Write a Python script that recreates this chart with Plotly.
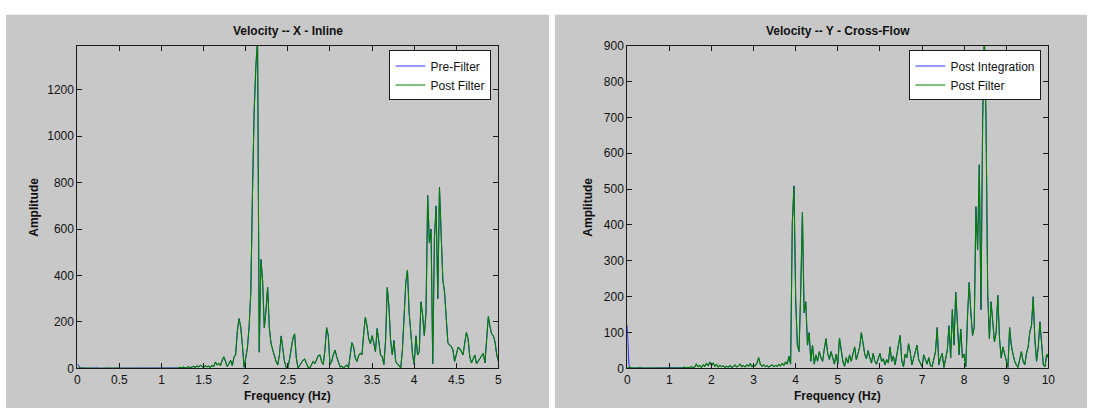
import numpy as np
import plotly.graph_objects as go

# Frequency bins (Hz)
freq_x = np.round(np.arange(251) * 0.02, 2)
freq_y = np.round(np.arange(251) * 0.04, 2)

# Inline (X) velocity spectrum after filtering
post_filter_x = [
    3, 2, 1, 2, 1, 1, 2, 1, 1, 2, 1, 1, 2, 1, 1, 1, 2, 1, 1, 2,
    1, 2, 1, 1, 2, 1, 1, 1, 2, 1, 1, 2, 1, 1, 2, 1, 2, 1, 1, 2,
    1, 2, 1, 1, 2, 2, 1, 2, 1, 2, 1, 2, 1, 2, 1,
    2, 3, 1, 2, 4, 2, 5, 3, 6, 2, 4, 7, 3, 5, 9, 4, 11, 6, 14, 8,
    5, 12, 7, 10, 4, 13, 9, 28, 15, 22, 12, 35, 50, 30, 8,
    20, 35, 12, 48, 60, 160, 215, 180, 100, 5,
    46, 90, 180, 330, 760, 1110, 1300, 1420, 70, 470,
    378, 174, 250, 349, 174, 108, 80, 50, 30, 15,
    60, 140, 90, 30, 5, 2, 40, 90, 130, 149,
    46, 2, 15, 25, 35, 40, 20, 5, 2, 15,
    30, 20, 40, 55, 58, 30, 17, 80, 176, 141,
    17, 30, 60, 79, 50, 24, 6, 10, 3, 8,
    15, 3, 50, 111, 93, 45, 30, 55, 65, 58,
    150, 221, 182, 127, 106, 141, 110, 72, 172, 120,
    58, 51, 17, 120, 349, 266, 120, 58, 120, 30,
    20, 10, 2, 80, 238, 369, 424, 238, 155, 60,
    17, 141, 58, 72, 287, 231, 141, 240, 745, 540,
    600, 20, 560, 700, 300, 780, 580, 380, 330, 230,
    110, 100, 95, 79, 30, 60, 90, 86, 70, 58,
    110, 155, 127, 50, 24, 45, 58, 20, 30, 44,
    55, 65, 24, 120, 224, 180, 148, 141, 113, 58,
    30,
]
# Before filtering only the lowest bins differ
pre_filter_x_head = [20, 8]
pre_filter_x = pre_filter_x_head + post_filter_x[len(pre_filter_x_head):]

# Cross-flow (Y) velocity spectrum after filtering
post_filter_y = [
    3, 2, 1, 2, 1, 1, 2, 1, 2, 1, 1, 2, 1, 1, 2, 1, 2, 1, 1, 2,
    1, 2, 2, 1, 3, 1, 2, 1, 3, 2, 1, 3, 2, 2, 4, 1, 3, 2, 5, 2,
    4, 12, 5, 8, 3, 10, 6, 14, 7, 18, 9, 15, 6, 11, 4, 9, 5, 7, 3, 6,
    4, 8, 3, 5, 10, 4, 7, 12, 5, 8, 4, 10, 6, 14, 5, 9, 7, 15, 30, 12,
    6, 10, 5, 8, 4, 7, 10, 5, 8, 6, 11, 7, 14, 9, 18, 12, 34, 12, 406, 509,
    190, 65, 47, 218, 435, 155, 186, 65, 100, 20,
    65, 12, 38, 20, 47, 30, 20, 55, 83, 42,
    25, 47, 30, 12, 40, 12, 85, 47, 20, 6,
    30, 15, 38, 20, 45, 60, 24, 40, 60, 100,
    65, 40, 27, 50, 30, 15, 42, 20, 12, 30,
    42, 20, 27, 10, 25, 15, 60, 20, 35, 10,
    40, 60, 92, 20, 5, 40, 30, 69, 45, 10,
    30, 50, 65, 25, 15, 5, 38, 25, 12, 30,
    8, 5, 25, 47, 114, 10, 30, 42, 3, 30,
    51, 119, 29, 164, 65, 213, 119, 38, 110, 29,
    40, 5, 145, 240, 155, 92, 114, 451, 330, 568,
    164, 693, 930, 693, 209, 83, 186, 119, 74, 101,
    204, 83, 29, 60, 38, 20, 3, 114, 65, 40,
    20, 10, 3, 25, 47, 20, 10, 42, 60, 101,
    120, 200, 80, 20, 60, 130, 60, 10, 5, 40,
    30,
]
post_integration_y_head = [120, 10]
post_integration_y = post_integration_y_head + post_filter_y[len(post_integration_y_head):]

x_ticks_left = [0, 0.5, 1, 1.5, 2, 2.5, 3, 3.5, 4, 4.5, 5]
x_tick_text_left = ["0", "0.5", "1", "1.5", "2", "2.5", "3", "3.5", "4", "4.5", "5"]
y_ticks_left = [0, 200, 400, 600, 800, 1000, 1200]
x_ticks_right = list(range(0, 11))
y_ticks_right = list(range(0, 1000, 100))

W, H = 1094, 417
BLUE = "#0000ff"
GREEN = "#008000"
GRAY = "#c8c8c8"
INK = "#111111"
FONT = "Liberation Sans, Arial, sans-serif"


def px(x):
    return x / W


def py(y):
    return 1 - y / H


fig = go.Figure()

fig.add_trace(go.Scatter(x=freq_x, y=pre_filter_x, mode="lines", name="Pre-Filter",
                         line=dict(color=BLUE, width=0.8), xaxis="x", yaxis="y", legend="legend"))
fig.add_trace(go.Scatter(x=freq_x, y=post_filter_x, mode="lines", name="Post Filter",
                         line=dict(color=GREEN, width=1.1), xaxis="x", yaxis="y", legend="legend"))
fig.add_trace(go.Scatter(x=freq_y, y=post_integration_y, mode="lines", name="Post Integration",
                         line=dict(color=BLUE, width=0.8), xaxis="x2", yaxis="y2", legend="legend2"))
fig.add_trace(go.Scatter(x=freq_y, y=post_filter_y, mode="lines", name="Post Filter",
                         line=dict(color=GREEN, width=1.1), xaxis="x2", yaxis="y2", legend="legend2"))

axis_common = dict(
    showline=True, linecolor="#1a1a1a", linewidth=1, mirror="ticks",
    ticks="inside", ticklen=5, tickcolor="#1a1a1a", tickwidth=1,
    showgrid=False, zeroline=False,
    tickfont=dict(family=FONT, size=12, color=INK),
    fixedrange=True,
)

left_x0, left_x1 = 75, 500
right_x0, right_x1 = 630, 1055
top_y, bottom_y = 40, 374

legend_common = dict(
    xanchor="right", yanchor="top",
    bgcolor="white", bordercolor="#1a1a1a", borderwidth=1,
    font=dict(family=FONT, size=12, color=INK),
    itemwidth=30, tracegroupgap=0,
)

fig.update_layout(
    width=W, height=H,
    margin=dict(l=0, r=0, t=0, b=0),
    paper_bgcolor="white",
    plot_bgcolor="white",
    showlegend=True,
    xaxis=dict(axis_common, domain=[px(left_x0), px(left_x1)], range=[0, 5],
               tickvals=x_ticks_left, ticktext=x_tick_text_left, anchor="y"),
    yaxis=dict(axis_common, domain=[py(bottom_y), py(top_y)], range=[0, 1390],
               tickvals=y_ticks_left, anchor="x"),
    xaxis2=dict(axis_common, domain=[px(right_x0), px(right_x1)], range=[0, 10],
                tickvals=x_ticks_right, anchor="y2"),
    yaxis2=dict(axis_common, domain=[py(bottom_y), py(top_y)], range=[0, 900],
                tickvals=y_ticks_right, anchor="x2"),
    legend=dict(legend_common, x=px(493), y=py(45)),
    legend2=dict(legend_common, x=px(1048), y=py(45)),
)

# Gray figure panels behind each axes
for x0, x1 in [(3, 551), (557, 1094)]:
    fig.add_shape(type="rect", xref="paper", yref="paper",
                  x0=px(x0), x1=px(x1), y0=py(415), y1=py(8),
                  fillcolor=GRAY, line=dict(width=0), layer="below")

label_font = dict(family=FONT, size=12, color=INK)


def bold(s):
    return f"<b>{s}</b>"


annotations = []
for (x0, x1, title) in [(left_x0, left_x1, "Velocity -- X - Inline"),
                         (right_x0, right_x1, "Velocity -- Y - Cross-Flow")]:
    cx = px((x0 + x1) / 2)
    annotations.append(dict(text=bold(title), x=cx, y=py(25), xref="paper", yref="paper",
                            showarrow=False, font=label_font, xanchor="center", yanchor="middle"))
    annotations.append(dict(text=bold("Frequency (Hz)"), x=cx, y=py(402), xref="paper", yref="paper",
                            showarrow=False, font=label_font, xanchor="center", yanchor="middle"))
for ax_x in [31, 590]:
    annotations.append(dict(text=bold("Amplitude"), x=px(ax_x), y=py((top_y + bottom_y) / 2),
                            xref="paper", yref="paper", showarrow=False, font=label_font,
                            textangle=-90, xanchor="center", yanchor="middle"))
fig.update_layout(annotations=annotations)

fig.write_html("out.html")
